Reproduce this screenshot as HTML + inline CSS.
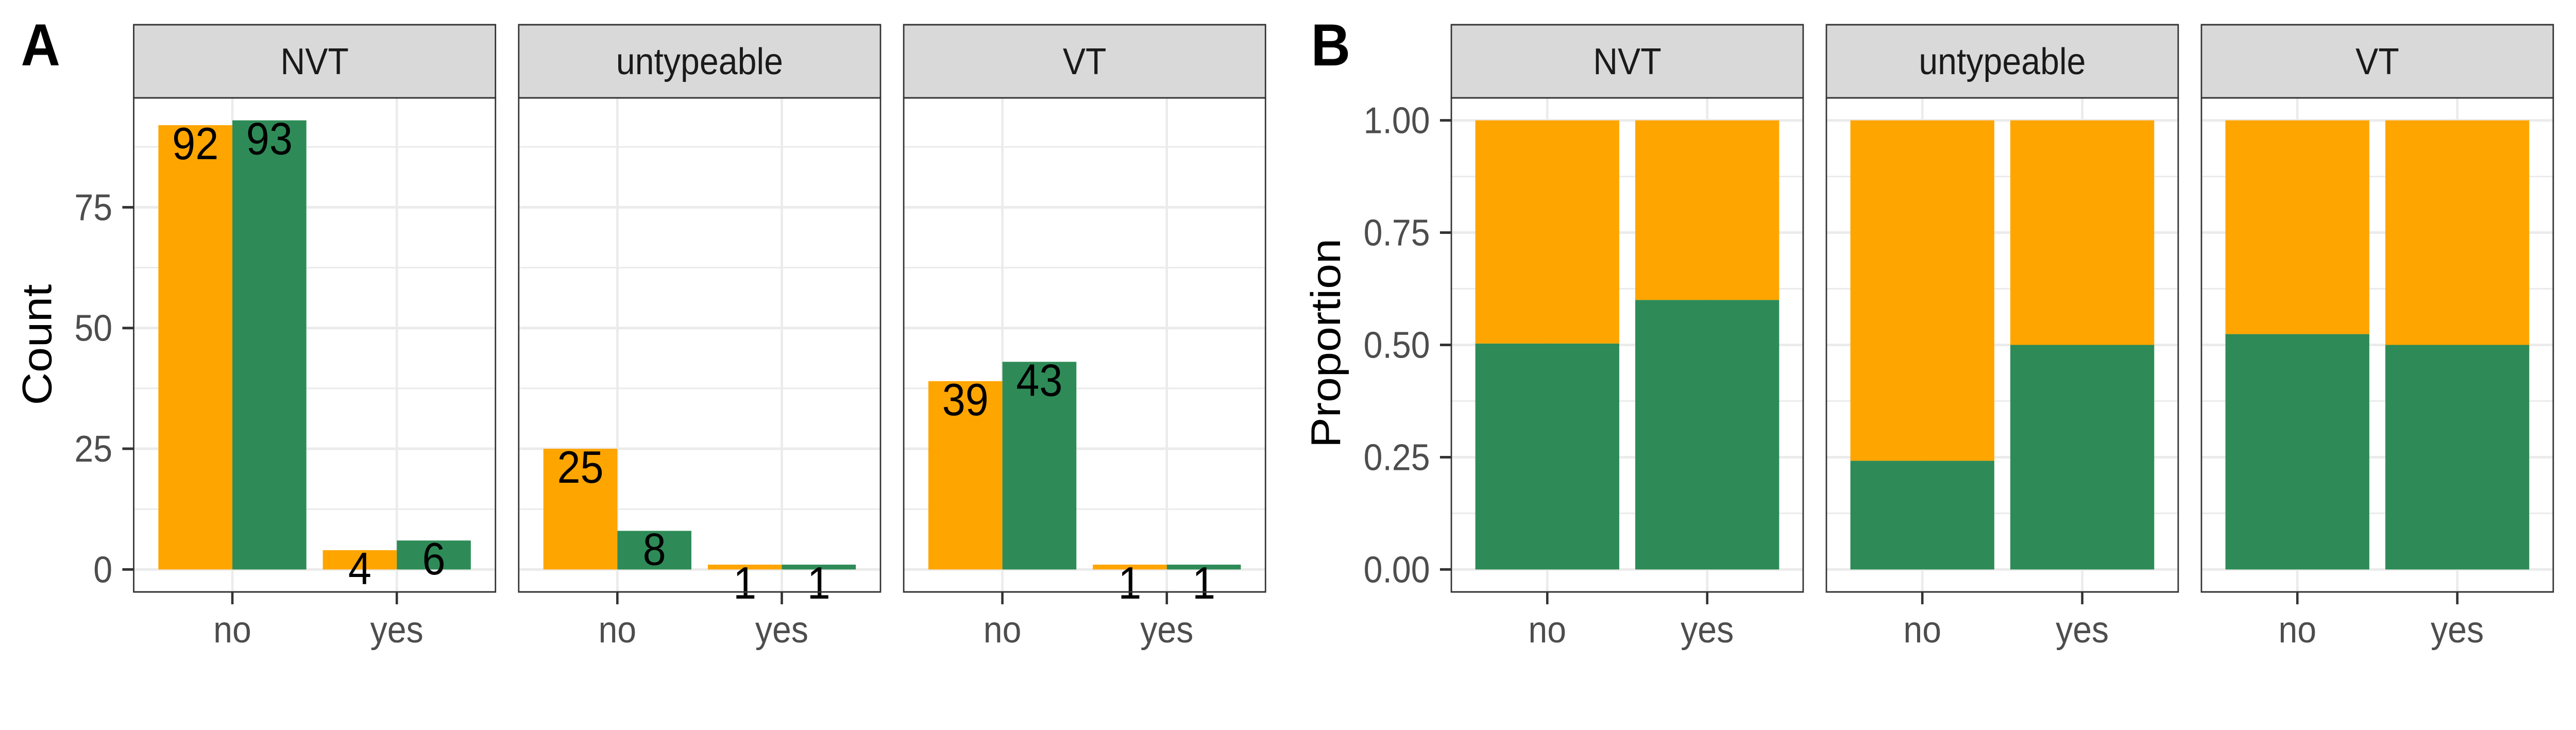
<!DOCTYPE html>
<html><head><meta charset="utf-8"><style>
html,body{margin:0;padding:0;background:#fff;width:100%;height:100%;overflow:hidden;}
svg{display:block;position:absolute;left:0;top:0;width:100vw;height:100vh;font-family:"Liberation Sans",Arial,sans-serif;}
</style></head><body>
<svg id="chart" viewBox="0 0 5433 1417" preserveAspectRatio="none" xmlns="http://www.w3.org/2000/svg">
<text x="44" y="127" font-size="115" font-weight="bold" fill="#000">A</text>
<text x="2765" y="127" font-size="115" font-weight="bold" fill="#000">B</text>
<text transform="translate(108,669) rotate(-90)" text-anchor="middle" font-size="88" fill="#000">Count</text>
<text transform="translate(2826,666) rotate(-90)" text-anchor="middle" font-size="88" fill="#000">Proportion</text>
<g id="layer"></g>
</svg>
<script>
const facets = ["NVT", "untypeable", "VT"];
const categories = ["no", "yes"];
const countsOrange = [[92, 4], [25, 1], [39, 1]];
const countsGreen = [[93, 6], [8, 1], [43, 1]];
const propGreen = [[0.503, 0.6], [0.242, 0.5], [0.524, 0.5]];
const countTicks = [0, 25, 50, 75];
const countTickLabels = ["0", "25", "50", "75"];
const propTicks = [0, 0.25, 0.5, 0.75, 1];
const propTickLabels = ["0.00", "0.25", "0.50", "0.75", "1.00"];

const NS = "http://www.w3.org/2000/svg";
const layer = document.getElementById("layer");
const ORANGE = "#FFA500", GREEN = "#2E8B57";
const TOP = 190, BOT = 1149, STRIP_TOP = 48;

function mk(tag, attrs, parent) {
  const e = document.createElementNS(NS, tag);
  for (const k in attrs) e.setAttribute(k, attrs[k]);
  (parent || layer).appendChild(e);
  return e;
}

function drawPanel(px, pw, yScale, majors, minors, panelName) {
  const g = mk("g", {});
  
  
  mk("rect", {x: px, y: TOP, width: pw, height: BOT - TOP, fill: "#fff"}, g);
  minors.forEach(v => {
    const l = mk("line", {x1: px, x2: px + pw, y1: yScale(v), y2: yScale(v), stroke: "#EBEBEB", "stroke-width": 3}, g);
    
    
  });
  majors.forEach(v => {
    const l = mk("line", {x1: px, x2: px + pw, y1: yScale(v), y2: yScale(v), stroke: "#EBEBEB", "stroke-width": 5}, g);
    
    
  });
  const step = pw / 2.2;
  categories.forEach((c, i) => {
    const cx = px + step * (0.6 + i);
    const l = mk("line", {x1: cx, x2: cx, y1: TOP, y2: BOT, stroke: "#EBEBEB", "stroke-width": 5}, g);
    
    
  });
  return {g, step};
}

function finishPanel(g, px, pw, step, facetName) {
  mk("rect", {x: px, y: TOP, width: pw, height: BOT - TOP, fill: "none", stroke: "#333", "stroke-width": 3}, g);
  const s = mk("rect", {x: px, y: STRIP_TOP, width: pw, height: TOP - STRIP_TOP, fill: "#D9D9D9", stroke: "#333", "stroke-width": 3}, g);
  
  
  const t = mk("text", {x: px + pw / 2, y: 144, "text-anchor": "middle", "font-size": 72, fill: "#1A1A1A"}, g);
  t.textContent = facetName;
  
  
  categories.forEach((c, i) => {
    const cx = px + step * (0.6 + i);
    mk("line", {x1: cx, x2: cx, y1: BOT, y2: BOT + 24, stroke: "#333", "stroke-width": 5}, g);
    const tl = mk("text", {x: cx, y: 1247, "text-anchor": "middle", "font-size": 72, fill: "#4D4D4D"}, g);
    tl.textContent = c;
    
    
  });
}

// Panel A
const aLefts = [282, 1094, 1906], aW = 763;
const cMax = Math.max(...countsOrange.flat(), ...countsGreen.flat());
const cLo = -0.05 * cMax, cHi = cMax * 1.05;
const yA = v => BOT - (v - cLo) / (cHi - cLo) * (BOT - TOP);
facets.forEach((f, fi) => {
  const px = aLefts[fi];
  const {g, step} = drawPanel(px, aW, yA, countTicks, countTicks.map(v => v + 12.5).filter(v => v < cHi), "count-panel-" + f.toLowerCase());
  const bw = step * 0.45;
  categories.forEach((c, ci) => {
    const cx = px + step * (0.6 + ci);
    [[countsOrange, ORANGE, -1, "orange"], [countsGreen, GREEN, 0, "green"]].forEach(([arr, col, off, nm]) => {
      const v = arr[fi][ci];
      const x = cx + off * bw;
      const r = mk("rect", {x: x, y: yA(v), width: bw, height: yA(0) - yA(v), fill: col}, g);
      
      
      const t = mk("text", {x: x + bw / 2, y: yA(v) + 66, "text-anchor": "middle", "font-size": 88, fill: "#000"}, g);
      t.textContent = v;
      
      
    });
  });
  finishPanel(g, px, aW, step, f);
});
countTicks.forEach((v, i) => {
  mk("line", {x1: 258, x2: 282, y1: yA(v), y2: yA(v), stroke: "#333", "stroke-width": 5});
  const t = mk("text", {x: 237, y: yA(v) + 25, "text-anchor": "end", "font-size": 72, fill: "#4D4D4D"});
  t.textContent = countTickLabels[i];
  
  
});

// Panel B
const bLefts = [3061, 3852, 4643], bW = 742;
const yB = v => BOT - (v + 0.05) / 1.1 * (BOT - TOP);
facets.forEach((f, fi) => {
  const px = bLefts[fi];
  const {g, step} = drawPanel(px, bW, yB, propTicks, [0.125, 0.375, 0.625, 0.875], "proportion-panel-" + f.toLowerCase());
  const bw = step * 0.9;
  categories.forEach((c, ci) => {
    const cx = px + step * (0.6 + ci);
    const p = propGreen[fi][ci];
    const r1 = mk("rect", {x: cx - bw / 2, y: yB(1), width: bw, height: yB(p) - yB(1), fill: ORANGE}, g);
    
    
    const r2 = mk("rect", {x: cx - bw / 2, y: yB(p), width: bw, height: yB(0) - yB(p), fill: GREEN}, g);
    
    
  });
  finishPanel(g, px, bW, step, f);
});
propTicks.forEach((v, i) => {
  mk("line", {x1: 3037, x2: 3061, y1: yB(v), y2: yB(v), stroke: "#333", "stroke-width": 5});
  const t = mk("text", {x: 3016, y: yB(v) + 25, "text-anchor": "end", "font-size": 72, fill: "#4D4D4D"});
  t.textContent = propTickLabels[i];
  
  
});
</script>
</body></html>
